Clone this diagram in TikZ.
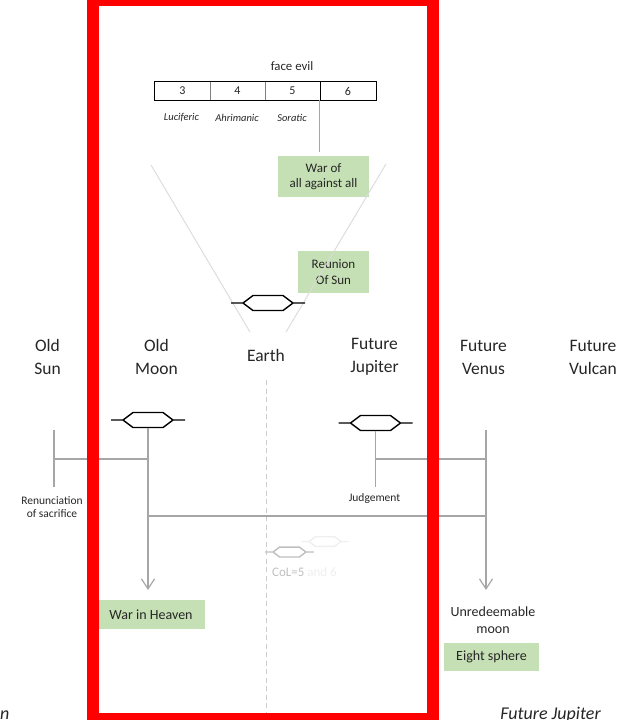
\documentclass[tikz,border=0pt]{standalone}
\usepackage{fontspec}
\setmainfont{Carlito}
\usetikzlibrary{arrows.meta}
\definecolor{boxgreen}{HTML}{C5E0B4}
\definecolor{linegray}{HTML}{A6A6A6}
\definecolor{vgray}{HTML}{DADADA}
\definecolor{colgray}{HTML}{BFBFBF}
\definecolor{faint}{HTML}{EFEFEF}
\definecolor{framered}{HTML}{FF0000}
\definecolor{dashgray}{HTML}{CCCCCC}
\definecolor{txt}{HTML}{262626}
\tikzset{
  greenbox/.style={fill=boxgreen, inner sep=0pt, align=center, font=\fontsize{13}{15.5}\selectfont, text=txt},
  planet/.style={align=center, font=\fontsize{17.5}{23}\selectfont, inner sep=0pt, text=txt},
  smalltext/.style={align=center, font=\fontsize{11.5}{13}\selectfont, inner sep=0pt, text=txt},
  midtext/.style={align=center, font=\fontsize{14}{17}\selectfont, inner sep=0pt, text=txt},
  cell/.style={minimum width=55pt, minimum height=18pt, inner sep=0pt, font=\fontsize{12}{13}\selectfont, text=txt},
  ital/.style={font=\fontsize{10.5}{12}\itshape\selectfont, inner sep=0pt, text=txt},
  glink/.style={draw=linegray, line width=1.2pt},
  garrow/.style={glink, -{Straight Barb[length=10pt,width=13pt,line width=1.2pt]}},
  vline/.style={draw=vgray, line width=0.9pt},
  hexline/.style={line width=1.4pt, line join=round},
  hexsym/.pic={
    \draw[hexline, pic actions] (-37,0) -- (-25,0) (-25,0) -- (-15,-7.5) -- (15,-7.5) -- (25,0)
      -- (15,7.5) -- (-15,7.5) -- cycle (25,0) -- (37,0);
    \coordinate (-b) at (0,7.5);
  },
}
\begin{document}
\begin{tikzpicture}[x=1pt, y=-1pt]
\useasboundingbox (0,0) rectangle (616,720);
\clip (0,0) rectangle (616,720);

% top table
\node[smalltext, font=\fontsize{12.8}{14}\selectfont] (faceevil) at (292,66) {face evil};
\node[cell] (c3) at (182.5,91) {3};
\node[cell] (c4) at (237.5,91) {4};
\node[cell] (c5) at (292.5,91) {5};
\node[cell, minimum width=56pt] (c6) at (348,91) {6};
\draw[black, line width=0.8pt] (c3.north west) rectangle (c6.south east);
\draw[gray, line width=0.8pt] (c3.north east) -- (c3.south east);
\draw[gray, line width=0.8pt] (c4.north east) -- (c4.south east);
\draw[black, line width=0.8pt] (c5.north east) -- (c5.south east);
\node[ital] (luc) at (181.5,118) {Luciferic};
\node[ital] (ahr) at (237,118) {Ahrimanic};
\node[ital] (sor) at (292,118) {Soratic};

% green boxes
\node[greenbox, minimum width=91pt, minimum height=41pt] (war) at (323.5,176.5) {War of\\all against all};
\node[greenbox, minimum width=71pt, minimum height=42pt] (reunion) at (333.5,272) {Reunion\\Of Sun};
\draw[glink, shorten >=4pt] (c6.south west) -- (c6.south west |- war.north);

% V lines
\coordinate (vl1) at (151,165);
\coordinate (vl2) at (250,332);
\coordinate (vr1) at (386,164);
\coordinate (vr2) at (286,332);
\draw[vline] (vl1) -- (vl2);
\draw[vline] (vr1) -- (vr2);

% hexagons
\pic (earthhex) at (268,303) {hexsym};
\pic (moonhex) at (148,420) {hexsym};
\pic (juphex) at (375.5,423) {hexsym};
\pic[draw=colgray, scale=0.66] (colhex) at (289.5,552) {hexsym};
\pic[draw=faint, scale=0.64] (colhexb) at (325,541.5) {hexsym};

% planet labels
\node[planet] (oldsun) at (47.5,357) {Old\\Sun};
\node[planet] (oldmoon) at (156.5,357) {Old\\Moon};
\node[planet] (earth) at (266,355.5) {Earth};
\node[planet] (futjup) at (374.5,357) {Future\\Jupiter};
\node[planet] (futven) at (483.5,357) {Future\\Venus};
\node[planet] (futvul) at (593,357) {Future\\Vulcan};

% Earth dashed line
\coordinate (ed1) at (266,380);
\coordinate (ed2) at (266,722);
\draw[dashgray, line width=0.9pt, dash pattern=on 5pt off 3.5pt] (ed1) -- (ed2);

% gray connectors
\coordinate (suntop) at (54,430);
\coordinate (sunbot) at (54,487);
\coordinate (sunjoin) at (54,459);
\draw[glink] (suntop) -- (sunbot);
\draw[glink] (sunjoin) -- (sunjoin -| moonhex-b);

\coordinate (moonend) at (148,590);
\draw[garrow] (moonhex-b) -- (moonend);

\coordinate (crossL) at (148,516);
\coordinate (venustop) at (486,430);
\coordinate (venusend) at (486,590);
\draw[glink] (crossL) -- (crossL -| venustop);
\draw[garrow] (venustop) -- (venusend);

\coordinate (jupbot) at (375.5,487);
\coordinate (jupjoin) at (375.5,459);
\draw[glink] (juphex-b) -- (jupbot);
\draw[glink] (jupjoin) -- (jupjoin -| venustop);

\node[smalltext] (renun) at (52,507) {Renunciation\\of sacrifice};
\node[smalltext] (judge) at (374.5,498) {Judgement};

% CoL
\node[smalltext, font=\fontsize{13}{14}\selectfont] (col) at (304.5,572) {\textcolor{colgray}{CoL=5} \textcolor{faint}{and 6}};

% lower boxes
\node[greenbox, font=\fontsize{14}{16}\selectfont, minimum width=108pt, minimum height=29pt] (heaven) at (151,614.5) {War in Heaven};
\node[midtext] (unred) at (493,620.5) {Unredeemable\\moon};
\node[greenbox, font=\fontsize{14}{16}\selectfont, minimum width=95pt, minimum height=28pt] (eight) at (491.5,657) {Eight sphere};

% bottom italic labels (cut off)
\node[planet, font=\fontsize{18}{20}\itshape\selectfont, anchor=base] (botjup) at (550.5,719.5) {Future Jupiter};
\node[planet, font=\fontsize{18}{20}\itshape\selectfont, anchor=base east] (botleft) at (9.5,719.5) {Old Moon};

% red frame
\draw[framered, line width=12pt] (93,0) rectangle (432.5,719.3);
\end{tikzpicture}
\end{document}
